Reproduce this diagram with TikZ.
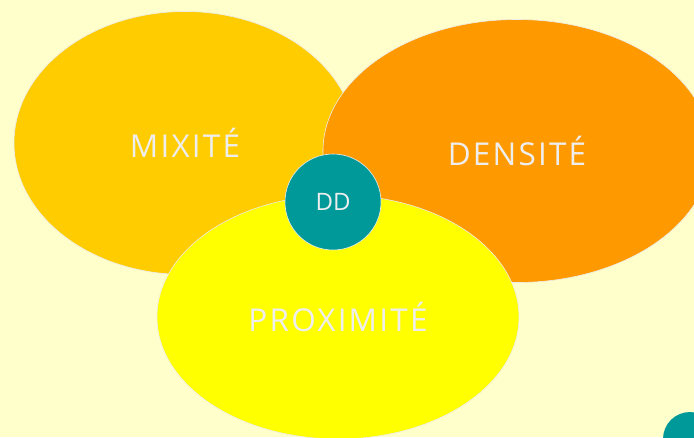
\documentclass[tikz,border=0pt]{standalone}
\usepackage{fontspec}
\setmainfont{Open Sans}
\usetikzlibrary{shapes,positioning}
\definecolor{fond}{HTML}{FFFFCC}
\definecolor{mix}{HTML}{FFCC00}
\definecolor{dens}{HTML}{FF9900}
\definecolor{prox}{HTML}{FFFF00}
\definecolor{dd}{HTML}{009999}
\definecolor{texte}{HTML}{EEEEEE}
\newcommand{\mot}[1]{{\addfontfeatures{LetterSpace=7}#1}}

\begin{document}
\begin{tikzpicture}[x=1pt,y=-1pt,
    bulle/.style={ellipse,draw=white!85!gray,line width=0.6pt,inner sep=0pt,
      text=texte,font=\fontsize{31.5}{36}\selectfont},
    centre/.style={circle,draw=white!85!gray,line width=0.6pt,fill=dd,inner sep=0pt,
      minimum size=96pt,text=texte,font=\fontsize{24}{28}\selectfont}]
      \useasboundingbox[fill=fond] (0,0) rectangle (694,437);
      \node[bulle,fill=mix,minimum width=342pt,minimum height=263pt] (mixite) at (185,143) {\mot{MIXITÉ}};
      \node[bulle,fill=dens,minimum width=388pt,minimum height=263pt] (densite) at (517,151) {\mot{DENSITÉ}};
      \node[bulle,fill=prox,minimum width=362pt,minimum height=244pt] (proximite) at (338,317) {\mot{PROXIMITÉ}};
      \node[centre] (dd) at (333,202) {DD};
      \node[circle,fill=dd,minimum size=54pt,inner sep=0pt] (coin) at (690,439) {};
    \end{tikzpicture}
\end{document}
